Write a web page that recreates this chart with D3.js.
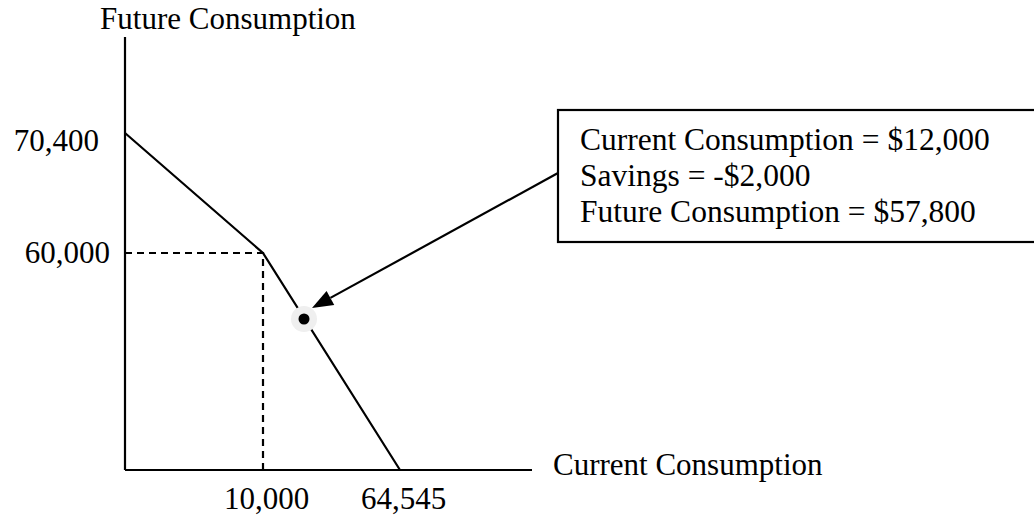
<!DOCTYPE html>
<html>
<head>
<meta charset="utf-8">
<script src="https://cdn.jsdelivr.net/npm/d3@7"></script>
<style>
    body { margin: 0; background: #fff; overflow: hidden; }
    text { font-family: "Liberation Serif", "Times New Roman", serif; fill: #000; }
</style>
</head>
<body>
<div id="budget__chart"></div>
<script>
// DATA
const budgetLine = [[0, 70400], [10000, 60000], [64545, 0]];   // current, future consumption
const endowment = [10000, 60000];
const chosenPoint = [12000, 57800];
const xTicks = [10000, 64545];
const yTicks = [60000, 70400];
const xLabel = 'Current Consumption';
const yLabel = 'Future Consumption';

const width = 1034;
const height = 516;

// the drawing is schematic, so scales are piecewise
const xScale = d3.scaleLinear()
                    .domain([0, endowment[0], chosenPoint[0], budgetLine[2][0]])
                    .range([125, 263, 304, 400]);
const yScale = d3.scaleLinear()
                    .domain([0, chosenPoint[1], endowment[1], budgetLine[0][1]])
                    .range([470, 319, 253, 133]);

const xAxisEnd = 532;
const yAxisTop = 37;
const fmt = d3.format(',');
const fontSize = 31;
const stroke = 2.2;

// CREATE MAIN SVG
const svg = d3.select('#budget__chart')
                .append('svg')
                    .attr('width', width)
                    .attr('height', height);

// AXIS LINES
svg.append('line')
        .attr('x1', xScale(0)).attr('y1', yScale(0))
        .attr('x2', xScale(0)).attr('y2', yAxisTop)
        .attr('stroke', '#000').attr('stroke-width', stroke);
svg.append('line')
        .attr('x1', xScale(0)).attr('y1', yScale(0))
        .attr('x2', xAxisEnd).attr('y2', yScale(0))
        .attr('stroke', '#000').attr('stroke-width', stroke);

// X AXIS
const xAxisG = svg.append('g')
                    .attr('transform', `translate(0, ${yScale(0)})`)
                    .call(d3.axisBottom(xScale).tickValues(xTicks).tickSize(0).tickPadding(17).tickFormat(fmt));
xAxisG.select('.domain').remove();
xAxisG.selectAll('text')
        .attr('font-size', fontSize)
        .attr('font-family', '"Liberation Serif", serif')
        .attr('dx', '0.1em');

// Y AXIS
const yAxisG = svg.append('g')
                    .attr('transform', `translate(${xScale(0)}, 0)`)
                    .call(d3.axisLeft(yScale).tickValues(yTicks).tickSize(0).tickPadding(15).tickFormat(fmt));
yAxisG.select('.domain').remove();
yAxisG.selectAll('text')
        .attr('font-size', fontSize)
        .attr('font-family', '"Liberation Serif", serif')
        .attr('dy', d => d === budgetLine[0][1] ? '0.58em' : '0.3em')
        .attr('dx', d => d === budgetLine[0][1] ? -11 : 0);

// AXIS LABELS
svg.append('text')
        .attr('x', 228).attr('y', 29)
        .attr('text-anchor', 'middle')
        .attr('font-size', fontSize)
        .text(yLabel);
svg.append('text')
        .attr('x', 553).attr('y', 475)
        .attr('font-size', fontSize)
        .text(xLabel);

// DASHED GUIDES TO ENDOWMENT
const line = d3.line().x(d => xScale(d[0])).y(d => yScale(d[1]));
svg.append('path')
        .datum([[0, endowment[1]], endowment, [endowment[0], 0]])
        .attr('d', line)
        .attr('fill', 'none')
        .attr('stroke', '#000')
        .attr('stroke-width', stroke)
        .attr('stroke-dasharray', '7,5');

// BUDGET LINE
svg.append('path')
        .datum(budgetLine)
        .attr('d', line)
        .attr('fill', 'none')
        .attr('stroke', '#000')
        .attr('stroke-width', stroke);

// CHOSEN POINT
svg.append('circle')
        .attr('cx', xScale(chosenPoint[0])).attr('cy', yScale(chosenPoint[1]))
        .attr('r', 13)
        .attr('fill', '#efefef');
svg.append('circle')
        .attr('cx', xScale(chosenPoint[0])).attr('cy', yScale(chosenPoint[1]))
        .attr('r', 5.5)
        .attr('fill', '#000');

// ANNOTATION BOX (runs off the right edge, like the original)
const box = { x: 558, y: 110, w: 520, h: 132 };
svg.append('rect')
        .attr('x', box.x).attr('y', box.y)
        .attr('width', box.w).attr('height', box.h)
        .attr('fill', '#fff')
        .attr('stroke', '#000')
        .attr('stroke-width', stroke);

const savings = endowment[0] - chosenPoint[0];
const money = v => (v < 0 ? '-$' : '$') + fmt(Math.abs(v));
const boxLines = [
    `Current Consumption = ${money(chosenPoint[0])}`,
    `Savings = ${money(savings)}`,
    `Future Consumption = ${money(chosenPoint[1])}`
];
svg.selectAll('.boxText')
        .data(boxLines)
        .enter().append('text')
            .attr('class', 'boxText')
            .attr('x', box.x + 22)
            .attr('y', (d, i) => 150 + i * 36)
            .attr('font-size', 31.5)
            .text(d => d);

// ARROW
const start = [box.x, 173];
const tip = [xScale(chosenPoint[0]) + 8, yScale(chosenPoint[1]) - 11];
const ang = Math.atan2(start[1] - tip[1], start[0] - tip[0]);
const headLen = 21, headW = 8;
const base = [tip[0] + headLen * Math.cos(ang), tip[1] + headLen * Math.sin(ang)];
svg.append('line')
        .attr('x1', start[0]).attr('y1', start[1])
        .attr('x2', base[0]).attr('y2', base[1])
        .attr('stroke', '#000')
        .attr('stroke-width', stroke);
svg.append('polygon')
        .attr('points', [
            tip,
            [base[0] + headW * Math.sin(ang), base[1] - headW * Math.cos(ang)],
            [base[0] - headW * Math.sin(ang), base[1] + headW * Math.cos(ang)]
        ].map(p => p.join(',')).join(' '))
        .attr('fill', '#000');
</script>
</body>
</html>
